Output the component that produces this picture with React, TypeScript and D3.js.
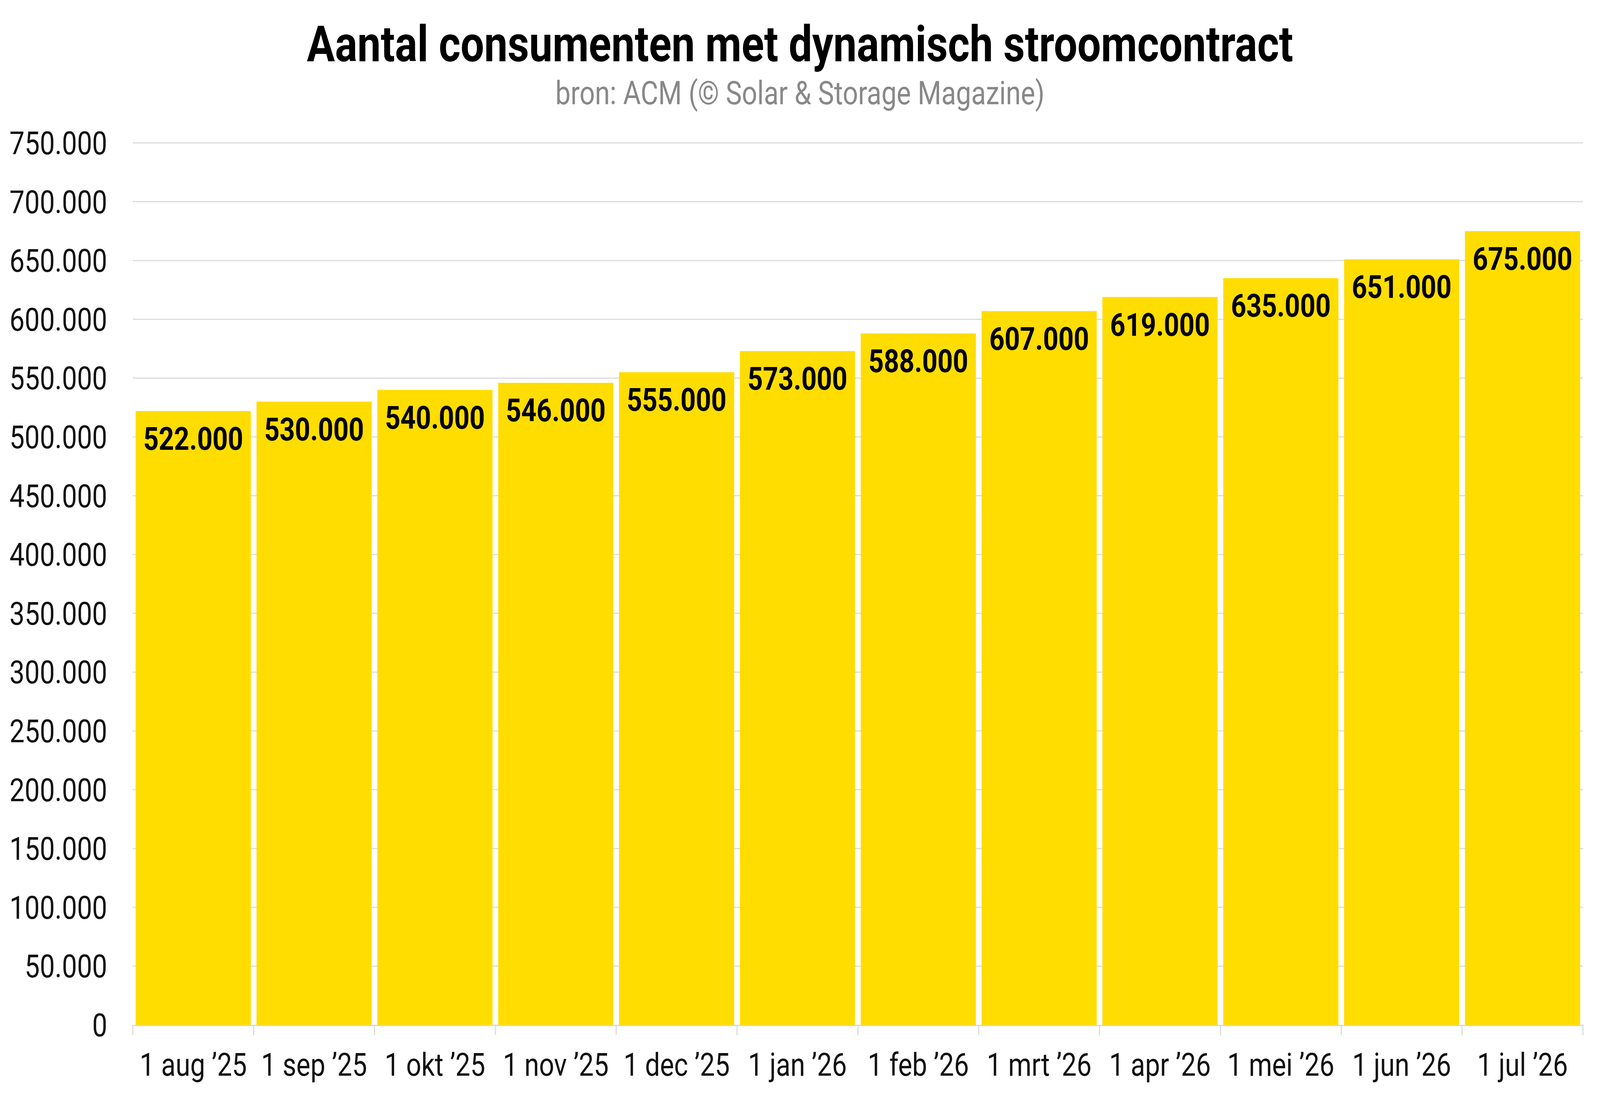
import React from 'react';
import * as d3 from 'd3';

const categories = ['1 aug ’25', '1 sep ’25', '1 okt ’25', '1 nov ’25', '1 dec ’25', '1 jan ’26', '1 feb ’26', '1 mrt ’26', '1 apr ’26', '1 mei ’26', '1 jun ’26', '1 jul ’26'];
const values = [522000, 530000, 540000, 546000, 555000, 573000, 588000, 607000, 619000, 635000, 651000, 675000];
const yTicks = [0, 50000, 100000, 150000, 200000, 250000, 300000, 350000, 400000, 450000, 500000, 550000, 600000, 650000, 700000, 750000];
const title = 'Aantal consumenten met dynamisch stroomcontract';
const subtitle = 'bron: ACM (© Solar & Storage Magazine)';

const W = 4878;
const H = 2807;
const left = 405;
const right = 4826;
const top = 366;
const bottom = 2625;

const nl = d3.formatLocale({ decimal: ',', thousands: '.', grouping: [3], currency: ['€', ''] });
const fmt = nl.format(',.0f');

export default function App() {
  const x = d3.scaleBand<string>().domain(categories).range([left, right]).paddingInner(0.047).paddingOuter(0.0235);
  const y = d3.scaleLinear().domain([0, 750000]).range([bottom, top]);
  const step = x.step();
  const font = 'Roboto, "Noto Sans", sans-serif';
  const boundaries = d3.range(categories.length + 1).map((i) => left + i * step);

  return (
    <svg
      viewBox={`0 0 ${W} ${H}`}
      preserveAspectRatio="none"
      width="100%"
      height="100%"
      style={{ position: 'fixed', left: 0, top: 0, width: '100%', height: '100%', background: '#fff' }}
      fontFamily={font}
    >
      <rect x={0} y={0} width={W} height={H} fill="#fff" />
      <text x={W / 2} y={157} textAnchor="middle" fontSize={127.5} fontWeight={700} fill="#000">{title}</text>
      <text x={W / 2} y={267} textAnchor="middle" fontSize={82.5} fill="#888">{subtitle}</text>

      {yTicks.map((t) => (
        <g key={t}>
          {t > 0 && <line x1={left} x2={right} y1={y(t)} y2={y(t)} stroke="#dcdcdc" strokeWidth={3} />}
          <text x={327} y={y(t) + 29} textAnchor="end" fontSize={82} fill="#111">{fmt(t)}</text>
        </g>
      ))}

      {categories.map((c, i) => (
        <rect key={c} x={x(c)} y={y(values[i])} width={x.bandwidth()} height={y(0) - y(values[i])} fill="#FFDD00" />
      ))}

      <line x1={left} x2={right} y1={bottom + 1.5} y2={bottom + 1.5} stroke="#d6d6d6" strokeWidth={3} />
      {boundaries.map((b, i) => (
        <line key={i} x1={b} x2={b} y1={bottom} y2={bottom + 26} stroke="#d6d6d6" strokeWidth={3} />
      ))}

      {categories.map((c) => (
        <text key={c} x={(x(c) as number) + x.bandwidth() / 2} y={2755} textAnchor="middle" fontSize={81} fill="#111">{c}</text>
      ))}

      {categories.map((c, i) => (
        <text key={c} x={(x(c) as number) + x.bandwidth() / 2} y={y(values[i]) + 99} textAnchor="middle" fontSize={81.5} fontWeight={700} fill="#000">{fmt(values[i])}</text>
      ))}
    </svg>
  );
}
